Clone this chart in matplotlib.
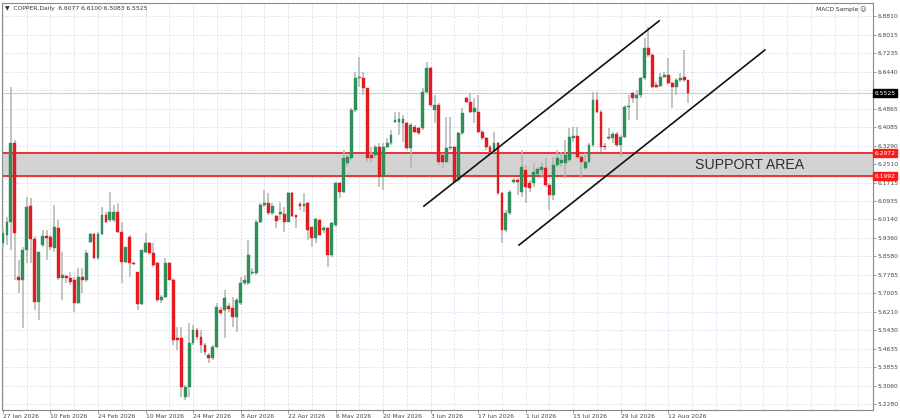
import numpy as np
import matplotlib
matplotlib.use("Agg")
import matplotlib.pyplot as plt

# --- 0. Data (COPPER, Daily) ---
opens = [
    5.914, 5.948, 6.003, 6.340, 5.769, 5.756, 5.884, 6.071, 5.931, 5.662,
    5.905, 5.944, 5.939, 5.893, 5.978, 5.765, 5.773, 5.765, 5.756, 5.658,
    5.769, 5.756, 5.918, 5.952, 5.850, 5.952, 6.033, 6.012, 6.012, 6.046,
    5.961, 5.833, 5.939, 5.829, 5.790, 5.654, 5.876, 5.914, 5.871, 5.829,
    5.671, 5.684, 5.829, 5.756, 5.509, 5.509, 5.258, 5.300, 5.488, 5.543,
    5.513, 5.479, 5.437, 5.424, 5.471, 5.628, 5.628, 5.645, 5.637, 5.599,
    5.658, 5.743, 5.743, 5.786, 5.786, 6.003, 6.076, 6.084, 6.042, 6.029,
    6.037, 6.037, 6.003, 6.127, 6.033, 6.080, 6.071, 6.084, 5.982, 5.935,
    6.012, 5.969, 5.978, 5.863, 5.991, 6.169, 6.131, 6.255, 6.276, 6.480,
    6.617, 6.617, 6.574, 6.289, 6.289, 6.323, 6.195, 6.323, 6.340, 6.429,
    6.429, 6.425, 6.425, 6.318, 6.408, 6.404, 6.404, 6.557, 6.659, 6.480,
    6.502, 6.289, 6.259, 6.318, 6.323, 6.182, 6.382, 6.532, 6.514, 6.472,
    6.472, 6.387, 6.361, 6.323, 6.301, 6.340, 6.127, 5.969, 6.042, 6.174,
    6.182, 6.131, 6.225, 6.169, 6.169, 6.208, 6.225, 6.233, 6.161, 6.118,
    6.246, 6.255, 6.255, 6.267, 6.361, 6.370, 6.280, 6.233, 6.259, 6.331,
    6.523, 6.472, 6.327, 6.365, 6.361, 6.378, 6.331, 6.365, 6.493, 6.553,
    6.532, 6.544, 6.617, 6.745, 6.715, 6.587, 6.583, 6.621, 6.629, 6.595,
    6.578, 6.608, 6.621, 6.6077,
]
highs = [
    5.978, 6.025, 6.578, 6.353, 5.841, 5.897, 6.110, 6.106, 5.944, 5.876,
    5.969, 5.969, 5.948, 6.076, 6.012, 5.876, 5.778, 5.790, 5.769, 5.807,
    5.807, 5.884, 5.956, 5.956, 5.961, 6.067, 6.046, 6.131, 6.076, 6.084,
    6.003, 5.897, 5.948, 5.833, 5.790, 5.884, 5.956, 5.918, 5.914, 5.833,
    5.692, 5.850, 5.833, 5.765, 5.556, 5.556, 5.309, 5.573, 5.565, 5.552,
    5.543, 5.488, 5.445, 5.479, 5.658, 5.641, 5.714, 5.658, 5.684, 5.680,
    5.769, 5.778, 5.927, 5.807, 6.012, 6.084, 6.140, 6.127, 6.084, 6.033,
    6.089, 6.067, 6.131, 6.131, 6.033, 6.089, 6.127, 6.089, 5.982, 6.020,
    6.016, 5.986, 5.982, 6.003, 6.174, 6.174, 6.310, 6.289, 6.489, 6.642,
    6.706, 6.642, 6.574, 6.323, 6.331, 6.340, 6.340, 6.361, 6.395, 6.472,
    6.472, 6.459, 6.429, 6.425, 6.417, 6.408, 6.574, 6.685, 6.664, 6.544,
    6.510, 6.297, 6.451, 6.451, 6.327, 6.387, 6.489, 6.536, 6.553, 6.532,
    6.544, 6.395, 6.365, 6.331, 6.387, 6.344, 6.131, 6.054, 6.140, 6.191,
    6.191, 6.310, 6.246, 6.182, 6.255, 6.238, 6.259, 6.276, 6.169, 6.280,
    6.310, 6.301, 6.353, 6.404, 6.408, 6.408, 6.289, 6.297, 6.340, 6.557,
    6.557, 6.480, 6.340, 6.404, 6.387, 6.387, 6.374, 6.502, 6.544, 6.557,
    6.566, 6.621, 6.787, 6.834, 6.723, 6.600, 6.638, 6.642, 6.702, 6.600,
    6.617, 6.638, 6.736, 6.6100,
]
lows = [
    5.893, 5.905, 5.884, 5.756, 5.701, 5.552, 5.829, 5.829, 5.628, 5.586,
    5.897, 5.841, 5.884, 5.876, 5.756, 5.671, 5.743, 5.735, 5.620, 5.654,
    5.701, 5.748, 5.914, 5.846, 5.841, 5.948, 5.999, 6.003, 6.003, 5.956,
    5.743, 5.829, 5.769, 5.820, 5.628, 5.650, 5.871, 5.863, 5.812, 5.662,
    5.658, 5.680, 5.756, 5.479, 5.458, 5.258, 5.245, 5.258, 5.479, 5.501,
    5.445, 5.437, 5.403, 5.415, 5.467, 5.607, 5.509, 5.620, 5.556, 5.535,
    5.650, 5.735, 5.735, 5.778, 5.778, 5.999, 6.067, 6.033, 6.033, 5.978,
    6.012, 5.961, 6.003, 6.025, 5.978, 6.054, 6.046, 5.927, 5.897, 5.914,
    5.944, 5.956, 5.812, 5.854, 5.982, 6.106, 6.127, 6.242, 6.267, 6.472,
    6.578, 6.544, 6.259, 6.259, 6.276, 6.152, 6.140, 6.318, 6.331, 6.425,
    6.374, 6.344, 6.310, 6.233, 6.382, 6.374, 6.395, 6.553, 6.493, 6.425,
    6.246, 6.233, 6.255, 6.310, 6.169, 6.174, 6.374, 6.510, 6.468, 6.425,
    6.382, 6.353, 6.310, 6.297, 6.297, 6.118, 5.914, 5.961, 6.033, 6.169,
    6.118, 6.110, 6.084, 6.131, 6.152, 6.203, 6.191, 6.152, 6.054, 6.097,
    6.238, 6.238, 6.191, 6.259, 6.344, 6.276, 6.191, 6.225, 6.255, 6.323,
    6.468, 6.301, 6.310, 6.353, 6.340, 6.323, 6.280, 6.361, 6.438, 6.510,
    6.438, 6.532, 6.608, 6.706, 6.574, 6.574, 6.578, 6.617, 6.587, 6.489,
    6.544, 6.600, 6.600, 6.5083,
]
closes = [
    5.956, 6.003, 6.340, 5.956, 5.756, 5.884, 6.067, 5.931, 5.662, 5.876,
    5.944, 5.935, 5.897, 5.982, 5.765, 5.778, 5.765, 5.748, 5.658, 5.769,
    5.756, 5.871, 5.952, 5.850, 5.952, 6.033, 6.003, 6.046, 6.046, 5.961,
    5.833, 5.897, 5.829, 5.824, 5.654, 5.884, 5.914, 5.871, 5.820, 5.671,
    5.684, 5.829, 5.756, 5.501, 5.501, 5.300, 5.300, 5.488, 5.543, 5.513,
    5.479, 5.450, 5.424, 5.471, 5.641, 5.616, 5.680, 5.633, 5.599, 5.671,
    5.743, 5.756, 5.863, 5.790, 6.003, 6.076, 6.084, 6.042, 6.071, 6.008,
    6.046, 6.003, 6.127, 6.029, 6.025, 6.071, 6.080, 5.969, 5.935, 6.016,
    5.948, 5.978, 5.863, 5.999, 6.169, 6.131, 6.276, 6.280, 6.480, 6.617,
    6.621, 6.574, 6.276, 6.276, 6.323, 6.195, 6.323, 6.340, 6.374, 6.438,
    6.442, 6.442, 6.318, 6.417, 6.387, 6.382, 6.557, 6.659, 6.502, 6.502,
    6.259, 6.259, 6.318, 6.323, 6.174, 6.382, 6.468, 6.514, 6.472, 6.489,
    6.387, 6.361, 6.323, 6.301, 6.340, 6.127, 5.969, 6.042, 6.131, 6.182,
    6.174, 6.238, 6.152, 6.148, 6.216, 6.229, 6.238, 6.161, 6.118, 6.246,
    6.276, 6.267, 6.289, 6.365, 6.370, 6.280, 6.259, 6.259, 6.331, 6.523,
    6.472, 6.323, 6.323, 6.361, 6.378, 6.331, 6.365, 6.493, 6.497, 6.532,
    6.544, 6.617, 6.745, 6.715, 6.578, 6.578, 6.621, 6.629, 6.595, 6.578,
    6.608, 6.617, 6.608, 6.5525,
]

date_labels = ['27 Jan 2026', '10 Feb 2026', '24 Feb 2026', '10 Mar 2026', '24 Mar 2026',
               '8 Apr 2026', '22 Apr 2026', '6 May 2026', '20 May 2026', '3 Jun 2026',
               '17 Jun 2026', '1 Jul 2026', '15 Jul 2026', '29 Jul 2026', '12 Aug 2026']
bars_per_label = 12

price_ticks = [6.8810, 6.8015, 6.7235, 6.6440, 6.4865, 6.4085, 6.3290, 6.2510, 6.1715,
               6.0935, 6.0140, 5.9360, 5.8580, 5.7785, 5.7005, 5.6210, 5.5430, 5.4635,
               5.3855, 5.3060, 5.2280]

support_top = 6.2972
support_bottom = 6.1992
last_price = 6.5525

# channel trend lines (bar index, price)
upper_x = [106.3, 165.7]
upper_y = [6.071, 6.860]
lower_x = [130.3, 192.4]
lower_y = [5.905, 6.736]

# --- 1. Figure ---
fig = plt.figure(figsize=(9, 4.18), dpi=100)
ax = fig.add_axes([0.0022, 0.0191, 0.9678, 0.9737])
ax.set_xlim(-0.25, 219.7)
ax.set_ylim(5.2024, 6.9362)

opens = np.array(opens)
closes = np.array(closes)
highs = np.array(highs)
lows = np.array(lows)
idx = np.arange(len(closes))

# grid
grid_col = '#dde2f0'
for p in price_ticks + [6.5655]:
    ax.axhline(p, color=grid_col, lw=0.7, ls=(0, (2, 1.5)), zorder=0)
for gx in np.arange(0, 220, bars_per_label // 2):
    ax.axvline(gx, color=grid_col, lw=0.7, ls=(0, (2, 1.5)), zorder=0)

# support area
ax.axhspan(support_bottom, support_top, color='#d3d3d3', zorder=1)
ax.axhline(support_top, color='#f03030', lw=1.4, zorder=2)
ax.axhline(support_bottom, color='#f03030', lw=1.4, zorder=2)
ax.text(188.6, (support_top + support_bottom) / 2, 'SUPPORT AREA', fontsize=10.2,
        family='Liberation Sans', color='#2e2e2e', ha='center', va='center', zorder=5)

# current price line
ax.axhline(last_price, color='#c8ccd6', lw=0.8, zorder=1)

# --- 2. Candles ---
up = closes >= opens
body_col = np.where(up, '#2f8f5a', '#e31b1f')
ax.vlines(idx, lows, highs, color='#b4b4b4', lw=1.1, zorder=3)
bottoms = np.minimum(opens, closes)
heights = np.maximum(np.abs(closes - opens), 0.004)
ax.bar(idx, heights, bottom=bottoms, width=0.72, color=body_col,
       edgecolor=body_col, linewidth=0.3, zorder=4)

# channel
ax.plot(upper_x, upper_y, color='#111111', lw=1.2, zorder=6)
ax.plot(lower_x, lower_y, color='#111111', lw=1.2, zorder=6)

# --- 3. Axes and labels ---
ax.yaxis.tick_right()
ax.set_yticks(price_ticks)
ax.set_yticklabels([f'{p:.4f}' for p in price_ticks], fontsize=4.3, color='#444444')
ax.tick_params(axis='y', length=2, width=0.5, color='#777777', pad=1.5)

xt = [bars_per_label * k for k in range(len(date_labels))]
ax.set_xticks(xt)
ax.set_xticklabels(date_labels, fontsize=4.3, color='#444444', ha='left')
ax.tick_params(axis='x', length=2, width=0.5, color='#777777', pad=0.8)

for s in ax.spines.values():
    s.set_color('#8a8a8a')
    s.set_linewidth(0.8)

# price boxes on the right axis
def axis_box(price, text, bg):
    ax.text(1.0015, price, text, transform=ax.get_yaxis_transform(), fontsize=4.3,
            color='white', ha='left', va='center', zorder=10, clip_on=False,
            bbox=dict(boxstyle='square,pad=0.25', fc=bg, ec=bg))

axis_box(last_price, f'{last_price:.4f}', 'black')
axis_box(support_top, f'{support_top:.4f}', '#ff1a1a')
axis_box(support_bottom, f'{support_bottom:.4f}', '#ff1a1a')

ax.text(0.004, 0.993, '\u25bc  COPPER,Daily  6.6077 6.6100 6.5083 6.5525', transform=ax.transAxes,
        fontsize=4.3, color='#333333', ha='left', va='top')
ax.text(0.993, 0.993, 'MACD Sample \u263a', transform=ax.transAxes,
        fontsize=4.3, color='#333333', ha='right', va='top')

fig.savefig('out.png', dpi=100, facecolor='white')
